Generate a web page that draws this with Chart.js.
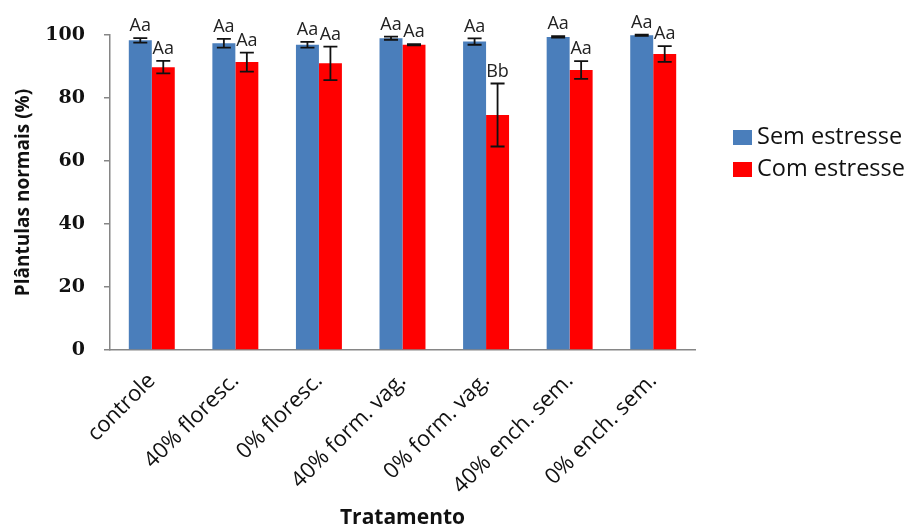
<!DOCTYPE html>
<html>
<head>
<meta charset="utf-8">
<script src="https://cdn.jsdelivr.net/npm/chart.js@4"></script>
<style>
  html, body { margin: 0; padding: 0; background: #fff; }
  #wrap { width: 904px; height: 531px; }
</style>
</head>
<body>
<div id="wrap"><canvas id="chart" width="904" height="531"></canvas></div>
<script>
// dados
const categories = ["controle", "40% floresc.", "0% floresc.", "40% form. vag.", "0% form. vag.", "40% ench. sem.", "0% ench. sem."];
const semEstresse = [98.3, 97.4, 96.9, 99.0, 97.9, 99.4, 99.9];
const semErro = [0.7, 1.4, 0.9, 0.5, 1.0, 0.2, 0.2];
const comEstresse = [89.8, 91.4, 91.0, 96.9, 74.6, 88.9, 94.0];
const comErro = [2.0, 3.0, 5.3, 0.2, 10.0, 2.8, 2.5];
const semLetras = ["Aa", "Aa", "Aa", "Aa", "Aa", "Aa", "Aa"];
const comLetras = ["Aa", "Aa", "Aa", "Aa", "Bb", "Aa", "Aa"];
const yTicks = [0, 20, 40, 60, 80, 100];

const AZUL = "#4a7ebb";
const VERMELHO = "#ff0000";
const EIXO = "#868686";
const TEXTO = "#111";

// barras de erro + letras
const errorBars = {
  id: "errorBars",
  afterDatasetsDraw(chart) {
    const ctx = chart.ctx;
    const y = chart.scales.y;
    const erros = [semErro, comErro];
    const letras = [semLetras, comLetras];
    chart.data.datasets.forEach((ds, di) => {
      const meta = chart.getDatasetMeta(di);
      meta.data.forEach((bar, i) => {
        const v = ds.data[i];
        const e = erros[di][i];
        const top = y.getPixelForValue(v + e);
        const bot = y.getPixelForValue(v - e);
        ctx.save();
        ctx.strokeStyle = "#111";
        ctx.lineWidth = 1.8;
        ctx.beginPath();
        ctx.moveTo(bar.x, top);
        ctx.lineTo(bar.x, bot);
        ctx.moveTo(bar.x - 7, top);
        ctx.lineTo(bar.x + 7, top);
        ctx.moveTo(bar.x - 7, bot);
        ctx.lineTo(bar.x + 7, bot);
        ctx.stroke();

        ctx.fillStyle = "#222";
        ctx.font = "18px 'Open Sans'";
        ctx.textAlign = "center";
        ctx.textBaseline = "middle";
        ctx.fillText(letras[di][i], bar.x, top - 12);
        ctx.restore();
      });
    });
  }
};

// legenda a direita
const legendaDireita = {
  id: "legendaDireita",
  afterDraw(chart) {
    const ctx = chart.ctx;
    ctx.save();
    chart.data.datasets.forEach((ds, i) => {
      const yTop = 130 + i * 32;
      ctx.fillStyle = ds.backgroundColor;
      ctx.fillRect(733, yTop, 19, 15);
      ctx.fillStyle = TEXTO;
      ctx.font = "23.5px 'Open Sans'";
      ctx.textAlign = "left";
      ctx.textBaseline = "middle";
      ctx.fillText(ds.label, 757, yTop + 7);
    });
    ctx.restore();
  }
};

new Chart(document.getElementById("chart"), {
  type: "bar",
  data: {
    labels: categories,
    datasets: [
      { label: "Sem estresse", data: semEstresse, backgroundColor: AZUL },
      { label: "Com estresse", data: comEstresse, backgroundColor: VERMELHO }
    ]
  },
  options: {
    responsive: false,
    animation: false,
    layout: { padding: { top: 35, right: 209, bottom: 0, left: 0 } },
    datasets: { bar: { categoryPercentage: 0.55, barPercentage: 1.0 } },
    plugins: { legend: { display: false }, tooltip: { enabled: false } },
    scales: {
      x: {
        grid: { display: false },
        border: { display: true, color: EIXO, width: 1.5 },
        ticks: {
          color: TEXTO,
          font: { family: "'Open Sans'", size: 22 },
          minRotation: 45,
          maxRotation: 45,
          padding: 10
        },
        title: {
          display: true,
          text: "Tratamento",
          color: TEXTO,
          font: { family: "'Open Sans'", size: 21, weight: "bold" },
          padding: { top: 0, bottom: 0 }
        },
        afterFit(scale) { scale.height = 181; }
      },
      y: {
        min: 0,
        max: 100,
        afterBuildTicks(scale) { scale.ticks = yTicks.map(v => ({ value: v })); },
        grid: { display: true, drawOnChartArea: false, drawTicks: true, tickLength: 6, color: EIXO, lineWidth: 1.5 },
        border: { display: true, color: EIXO, width: 1.5 },
        ticks: {
          color: TEXTO,
          font: { family: "'DejaVu Serif'", size: 19, weight: "bold" },
          padding: 19
        },
        title: {
          display: true,
          text: "Plântulas normais (%)",
          color: TEXTO,
          font: { family: "'Open Sans'", size: 19, weight: "bold" },
          padding: { top: 12, bottom: 0 }
        },
        afterFit(scale) { scale.width = 110; }
      }
    }
  },
  plugins: [errorBars, legendaDireita]
});
</script>
</body>
</html>
